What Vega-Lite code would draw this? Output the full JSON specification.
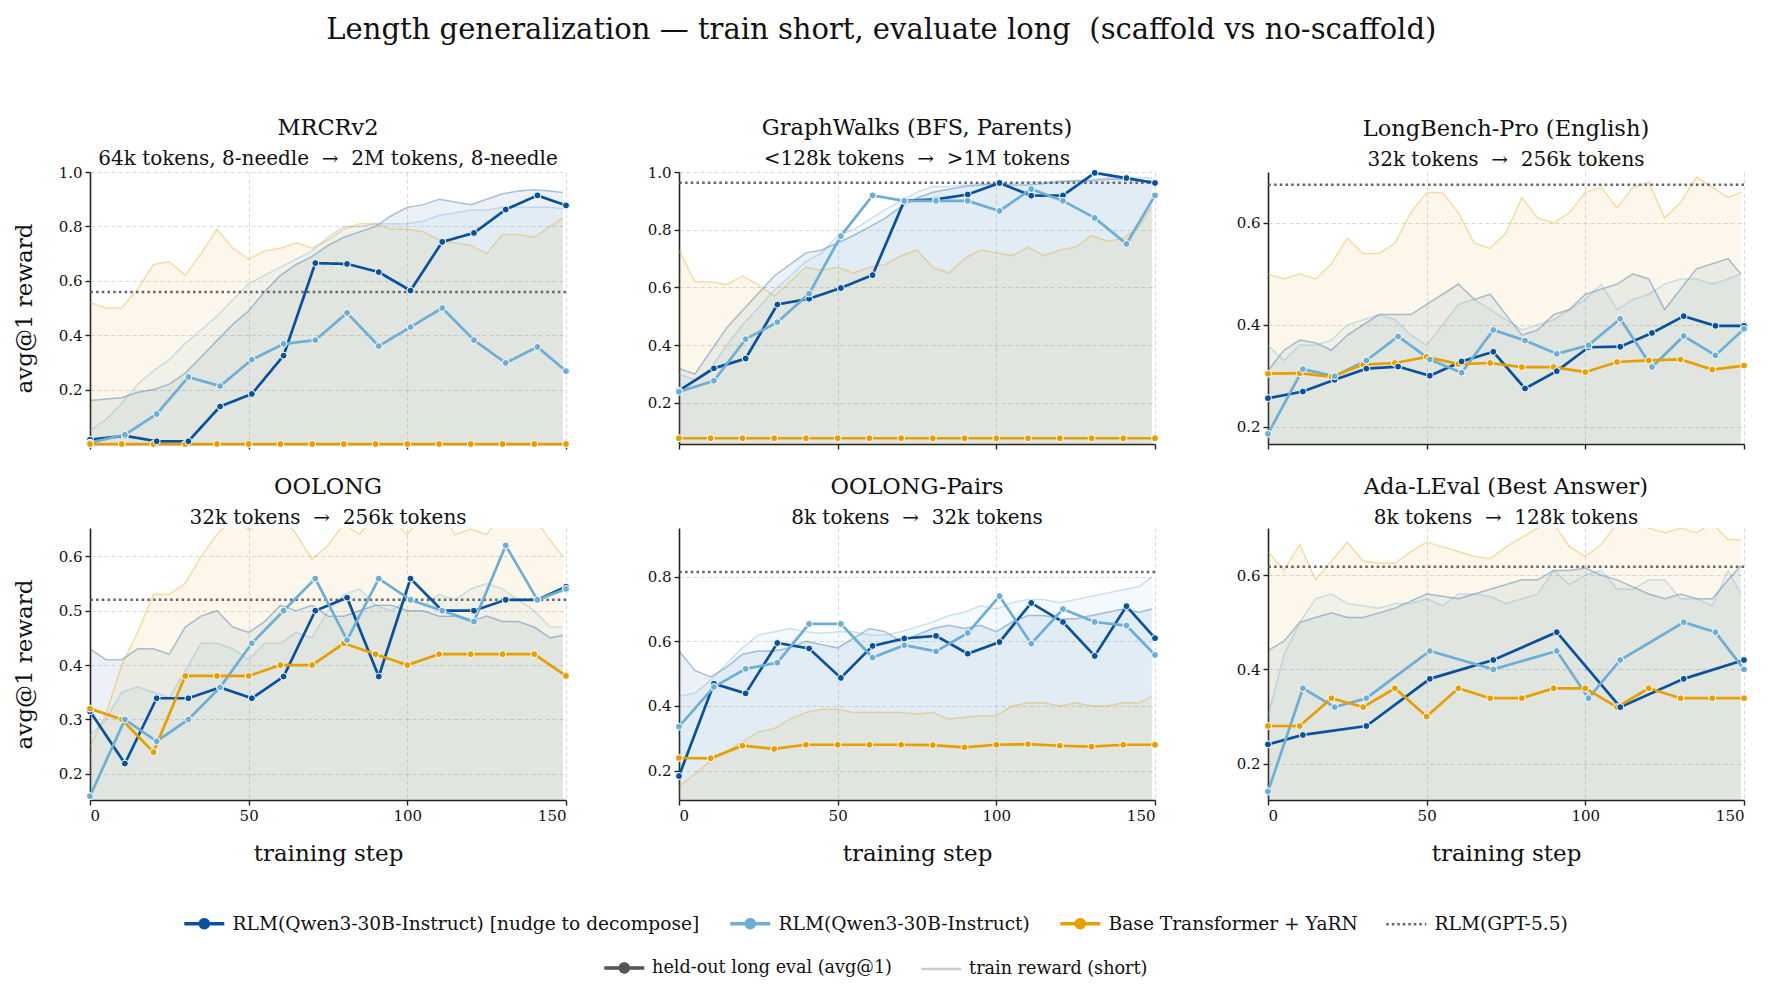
{
"$schema":"https://vega.github.io/schema/vega-lite/v6.json",
"padding":{"left":13,"top":16,"right":16,"bottom":12},
"title":{"text":"Length generalization — train short, evaluate long \u00a0(scaffold vs no-scaffold)","fontSize":29,"anchor":"middle","offset":72,"frame":"bounds","font":"DejaVu Serif","fontWeight":"normal","color":"#111"},
"datasets":{
"train":[
{"p":"m","x":0,"d":0.16,"l":0.05,"o":0.52},{"p":"m","x":5,"d":0.165,"l":0.09,"o":0.50},{"p":"m","x":10,"d":0.17,"l":0.15,"o":0.50},{"p":"m","x":15,"d":0.19,"l":0.22,"o":0.57},{"p":"m","x":20,"d":0.20,"l":0.27,"o":0.66},{"p":"m","x":25,"d":0.22,"l":0.31,"o":0.67},{"p":"m","x":30,"d":0.26,"l":0.37,"o":0.62},{"p":"m","x":35,"d":0.32,"l":0.42,"o":0.70},{"p":"m","x":40,"d":0.38,"l":0.47,"o":0.79},{"p":"m","x":45,"d":0.44,"l":0.53,"o":0.72},{"p":"m","x":50,"d":0.49,"l":0.59,"o":0.68},{"p":"m","x":55,"d":0.56,"l":0.62,"o":0.71},{"p":"m","x":60,"d":0.62,"l":0.65,"o":0.72},{"p":"m","x":65,"d":0.66,"l":0.68,"o":0.74},{"p":"m","x":70,"d":0.69,"l":0.71,"o":0.72},{"p":"m","x":75,"d":0.73,"l":0.76,"o":0.75},{"p":"m","x":80,"d":0.76,"l":0.80,"o":0.79},{"p":"m","x":85,"d":0.78,"l":0.80,"o":0.81},{"p":"m","x":90,"d":0.80,"l":0.81,"o":0.81},{"p":"m","x":95,"d":0.84,"l":0.81,"o":0.79},{"p":"m","x":100,"d":0.87,"l":0.81,"o":0.79},{"p":"m","x":105,"d":0.88,"l":0.82,"o":0.78},{"p":"m","x":110,"d":0.90,"l":0.84,"o":0.75},{"p":"m","x":115,"d":0.89,"l":0.85,"o":0.74},{"p":"m","x":120,"d":0.88,"l":0.86,"o":0.73},{"p":"m","x":125,"d":0.90,"l":0.86,"o":0.70},{"p":"m","x":130,"d":0.92,"l":0.87,"o":0.77},{"p":"m","x":135,"d":0.93,"l":0.87,"o":0.77},{"p":"m","x":140,"d":0.935,"l":0.87,"o":0.76},{"p":"m","x":145,"d":0.93,"l":0.87,"o":0.80},{"p":"m","x":149,"d":0.925,"l":0.865,"o":0.83},
{"p":"gw","x":0,"d":0.32,"l":0.30,"o":0.73},{"p":"gw","x":5,"d":0.30,"l":0.28,"o":0.62},{"p":"gw","x":10,"d":0.38,"l":0.32,"o":0.62},{"p":"gw","x":15,"d":0.46,"l":0.40,"o":0.61},{"p":"gw","x":20,"d":0.52,"l":0.47,"o":0.64},{"p":"gw","x":25,"d":0.58,"l":0.53,"o":0.61},{"p":"gw","x":30,"d":0.64,"l":0.59,"o":0.57},{"p":"gw","x":35,"d":0.68,"l":0.64,"o":0.62},{"p":"gw","x":40,"d":0.72,"l":0.69,"o":0.67},{"p":"gw","x":45,"d":0.73,"l":0.72,"o":0.66},{"p":"gw","x":50,"d":0.755,"l":0.78,"o":0.67},{"p":"gw","x":55,"d":0.78,"l":0.80,"o":0.65},{"p":"gw","x":60,"d":0.81,"l":0.835,"o":0.67},{"p":"gw","x":65,"d":0.84,"l":0.87,"o":0.68},{"p":"gw","x":70,"d":0.88,"l":0.90,"o":0.71},{"p":"gw","x":75,"d":0.91,"l":0.93,"o":0.73},{"p":"gw","x":80,"d":0.93,"l":0.95,"o":0.67},{"p":"gw","x":85,"d":0.94,"l":0.95,"o":0.65},{"p":"gw","x":90,"d":0.95,"l":0.955,"o":0.70},{"p":"gw","x":95,"d":0.955,"l":0.96,"o":0.73},{"p":"gw","x":100,"d":0.96,"l":0.96,"o":0.72},{"p":"gw","x":105,"d":0.955,"l":0.96,"o":0.71},{"p":"gw","x":110,"d":0.955,"l":0.965,"o":0.74},{"p":"gw","x":115,"d":0.96,"l":0.965,"o":0.71},{"p":"gw","x":120,"d":0.965,"l":0.97,"o":0.73},{"p":"gw","x":125,"d":0.97,"l":0.97,"o":0.74},{"p":"gw","x":130,"d":0.97,"l":0.975,"o":0.78},{"p":"gw","x":135,"d":0.975,"l":0.98,"o":0.76},{"p":"gw","x":140,"d":0.975,"l":0.98,"o":0.77},{"p":"gw","x":145,"d":0.97,"l":0.98,"o":0.81},{"p":"gw","x":149,"d":0.97,"l":0.98,"o":0.88},
{"p":"lb","x":0,"d":0.31,"l":0.36,"o":0.50},{"p":"lb","x":5,"d":0.35,"l":0.33,"o":0.49},{"p":"lb","x":10,"d":0.37,"l":0.36,"o":0.50},{"p":"lb","x":15,"d":0.365,"l":0.36,"o":0.49},{"p":"lb","x":20,"d":0.35,"l":0.37,"o":0.52},{"p":"lb","x":25,"d":0.38,"l":0.40,"o":0.57},{"p":"lb","x":30,"d":0.40,"l":0.41,"o":0.54},{"p":"lb","x":35,"d":0.42,"l":0.42,"o":0.54},{"p":"lb","x":40,"d":0.42,"l":0.41,"o":0.56},{"p":"lb","x":45,"d":0.42,"l":0.38,"o":0.62},{"p":"lb","x":50,"d":0.44,"l":0.36,"o":0.66},{"p":"lb","x":55,"d":0.46,"l":0.40,"o":0.66},{"p":"lb","x":60,"d":0.48,"l":0.44,"o":0.62},{"p":"lb","x":65,"d":0.45,"l":0.45,"o":0.56},{"p":"lb","x":70,"d":0.46,"l":0.43,"o":0.55},{"p":"lb","x":75,"d":0.42,"l":0.41,"o":0.58},{"p":"lb","x":80,"d":0.38,"l":0.39,"o":0.65},{"p":"lb","x":85,"d":0.39,"l":0.40,"o":0.61},{"p":"lb","x":90,"d":0.42,"l":0.41,"o":0.60},{"p":"lb","x":95,"d":0.43,"l":0.43,"o":0.62},{"p":"lb","x":100,"d":0.46,"l":0.45,"o":0.66},{"p":"lb","x":105,"d":0.47,"l":0.48,"o":0.67},{"p":"lb","x":110,"d":0.48,"l":0.43,"o":0.63},{"p":"lb","x":115,"d":0.50,"l":0.45,"o":0.67},{"p":"lb","x":120,"d":0.49,"l":0.46,"o":0.68},{"p":"lb","x":125,"d":0.43,"l":0.48,"o":0.61},{"p":"lb","x":130,"d":0.47,"l":0.49,"o":0.64},{"p":"lb","x":135,"d":0.51,"l":0.49,"o":0.69},{"p":"lb","x":140,"d":0.52,"l":0.48,"o":0.67},{"p":"lb","x":145,"d":0.53,"l":0.49,"o":0.65},{"p":"lb","x":149,"d":0.50,"l":0.50,"o":0.66},
{"p":"oo","x":0,"d":0.43,"l":0.27,"o":0.25},{"p":"oo","x":5,"d":0.41,"l":0.30,"o":0.31},{"p":"oo","x":10,"d":0.41,"l":0.35,"o":0.40},{"p":"oo","x":15,"d":0.43,"l":0.36,"o":0.46},{"p":"oo","x":20,"d":0.43,"l":0.35,"o":0.53},{"p":"oo","x":25,"d":0.42,"l":0.34,"o":0.53},{"p":"oo","x":30,"d":0.47,"l":0.39,"o":0.55},{"p":"oo","x":35,"d":0.49,"l":0.44,"o":0.60},{"p":"oo","x":40,"d":0.50,"l":0.44,"o":0.64},{"p":"oo","x":45,"d":0.47,"l":0.43,"o":0.67},{"p":"oo","x":50,"d":0.46,"l":0.41,"o":0.65},{"p":"oo","x":55,"d":0.48,"l":0.44,"o":0.66},{"p":"oo","x":60,"d":0.51,"l":0.44,"o":0.68},{"p":"oo","x":65,"d":0.50,"l":0.46,"o":0.64},{"p":"oo","x":70,"d":0.51,"l":0.45,"o":0.595},{"p":"oo","x":75,"d":0.49,"l":0.50,"o":0.62},{"p":"oo","x":80,"d":0.49,"l":0.53,"o":0.66},{"p":"oo","x":85,"d":0.50,"l":0.54,"o":0.64},{"p":"oo","x":90,"d":0.51,"l":0.51,"o":0.68},{"p":"oo","x":95,"d":0.51,"l":0.50,"o":0.67},{"p":"oo","x":100,"d":0.50,"l":0.52,"o":0.64},{"p":"oo","x":105,"d":0.50,"l":0.51,"o":0.68},{"p":"oo","x":110,"d":0.49,"l":0.53,"o":0.69},{"p":"oo","x":115,"d":0.49,"l":0.52,"o":0.64},{"p":"oo","x":120,"d":0.48,"l":0.54,"o":0.65},{"p":"oo","x":125,"d":0.49,"l":0.55,"o":0.64},{"p":"oo","x":130,"d":0.48,"l":0.54,"o":0.68},{"p":"oo","x":135,"d":0.48,"l":0.52,"o":0.69},{"p":"oo","x":140,"d":0.47,"l":0.50,"o":0.67},{"p":"oo","x":145,"d":0.45,"l":0.47,"o":0.63},{"p":"oo","x":149,"d":0.455,"l":0.47,"o":0.60},
{"p":"op","x":0,"d":0.57,"l":0.43,"o":0.15},{"p":"op","x":5,"d":0.51,"l":0.44,"o":0.19},{"p":"op","x":10,"d":0.49,"l":0.48,"o":0.23},{"p":"op","x":15,"d":0.52,"l":0.53,"o":0.26},{"p":"op","x":20,"d":0.56,"l":0.58,"o":0.29},{"p":"op","x":25,"d":0.57,"l":0.62,"o":0.32},{"p":"op","x":30,"d":0.57,"l":0.63,"o":0.33},{"p":"op","x":35,"d":0.58,"l":0.64,"o":0.36},{"p":"op","x":40,"d":0.60,"l":0.63,"o":0.38},{"p":"op","x":45,"d":0.59,"l":0.625,"o":0.39},{"p":"op","x":50,"d":0.58,"l":0.63,"o":0.39},{"p":"op","x":55,"d":0.61,"l":0.63,"o":0.38},{"p":"op","x":60,"d":0.64,"l":0.62,"o":0.38},{"p":"op","x":65,"d":0.63,"l":0.62,"o":0.38},{"p":"op","x":70,"d":0.60,"l":0.63,"o":0.38},{"p":"op","x":75,"d":0.62,"l":0.645,"o":0.375},{"p":"op","x":80,"d":0.64,"l":0.66,"o":0.38},{"p":"op","x":85,"d":0.65,"l":0.68,"o":0.36},{"p":"op","x":90,"d":0.64,"l":0.69,"o":0.365},{"p":"op","x":95,"d":0.65,"l":0.71,"o":0.37},{"p":"op","x":100,"d":0.63,"l":0.70,"o":0.37},{"p":"op","x":105,"d":0.66,"l":0.72,"o":0.40},{"p":"op","x":110,"d":0.68,"l":0.73,"o":0.41},{"p":"op","x":115,"d":0.68,"l":0.73,"o":0.41},{"p":"op","x":120,"d":0.67,"l":0.72,"o":0.40},{"p":"op","x":125,"d":0.67,"l":0.73,"o":0.41},{"p":"op","x":130,"d":0.68,"l":0.74,"o":0.40},{"p":"op","x":135,"d":0.69,"l":0.75,"o":0.40},{"p":"op","x":140,"d":0.70,"l":0.76,"o":0.41},{"p":"op","x":145,"d":0.69,"l":0.77,"o":0.41},{"p":"op","x":149,"d":0.70,"l":0.80,"o":0.43},
{"p":"ad","x":0,"d":0.44,"l":0.30,"o":0.65},{"p":"ad","x":5,"d":0.46,"l":0.43,"o":0.61},{"p":"ad","x":10,"d":0.50,"l":0.50,"o":0.665},{"p":"ad","x":15,"d":0.51,"l":0.55,"o":0.59},{"p":"ad","x":20,"d":0.52,"l":0.56,"o":0.63},{"p":"ad","x":25,"d":0.51,"l":0.54,"o":0.67},{"p":"ad","x":30,"d":0.51,"l":0.535,"o":0.63},{"p":"ad","x":35,"d":0.52,"l":0.53,"o":0.625},{"p":"ad","x":40,"d":0.53,"l":0.54,"o":0.625},{"p":"ad","x":45,"d":0.545,"l":0.54,"o":0.65},{"p":"ad","x":50,"d":0.56,"l":0.55,"o":0.67},{"p":"ad","x":55,"d":0.555,"l":0.535,"o":0.66},{"p":"ad","x":60,"d":0.55,"l":0.56,"o":0.65},{"p":"ad","x":65,"d":0.56,"l":0.56,"o":0.64},{"p":"ad","x":70,"d":0.57,"l":0.555,"o":0.635},{"p":"ad","x":75,"d":0.58,"l":0.54,"o":0.66},{"p":"ad","x":80,"d":0.59,"l":0.55,"o":0.68},{"p":"ad","x":85,"d":0.59,"l":0.56,"o":0.70},{"p":"ad","x":90,"d":0.61,"l":0.61,"o":0.71},{"p":"ad","x":95,"d":0.61,"l":0.58,"o":0.66},{"p":"ad","x":100,"d":0.615,"l":0.60,"o":0.64},{"p":"ad","x":105,"d":0.60,"l":0.61,"o":0.665},{"p":"ad","x":110,"d":0.59,"l":0.57,"o":0.71},{"p":"ad","x":115,"d":0.575,"l":0.57,"o":0.71},{"p":"ad","x":120,"d":0.56,"l":0.59,"o":0.70},{"p":"ad","x":125,"d":0.55,"l":0.59,"o":0.69},{"p":"ad","x":130,"d":0.56,"l":0.55,"o":0.70},{"p":"ad","x":135,"d":0.55,"l":0.55,"o":0.69},{"p":"ad","x":140,"d":0.55,"l":0.535,"o":0.71},{"p":"ad","x":145,"d":0.59,"l":0.61,"o":0.675},{"p":"ad","x":149,"d":0.62,"l":0.56,"o":0.675}
],
"eval":[
{"p":"m","x":0,"d":0.016,"l":0.005,"o":0},{"p":"m","x":10,"o":0},{"p":"m","x":11,"d":0.03,"l":0.034},{"p":"m","x":20,"o":0},{"p":"m","x":21,"d":0.01,"l":0.11},{"p":"m","x":30,"o":0},{"p":"m","x":31,"d":0.01,"l":0.246},{"p":"m","x":40,"o":0},{"p":"m","x":41,"d":0.138,"l":0.213},{"p":"m","x":50,"o":0},{"p":"m","x":51,"d":0.184,"l":0.31},{"p":"m","x":60,"o":0},{"p":"m","x":61,"d":0.325,"l":0.368},{"p":"m","x":70,"o":0},{"p":"m","x":71,"d":0.665,"l":0.382},{"p":"m","x":80,"o":0},{"p":"m","x":81,"d":0.662,"l":0.482},{"p":"m","x":90,"o":0},{"p":"m","x":91,"d":0.632,"l":0.36},{"p":"m","x":100,"o":0},{"p":"m","x":101,"d":0.564,"l":0.43},{"p":"m","x":110,"o":0},{"p":"m","x":111,"d":0.743,"l":0.5},{"p":"m","x":120,"o":0},{"p":"m","x":121,"d":0.776,"l":0.382},{"p":"m","x":130,"o":0},{"p":"m","x":131,"d":0.862,"l":0.298},{"p":"m","x":140,"o":0},{"p":"m","x":141,"d":0.914,"l":0.357},{"p":"m","x":150,"d":0.877,"l":0.268,"o":0},
{"p":"gw","x":0,"d":0.243,"l":0.239,"o":0.078},{"p":"gw","x":10,"o":0.078},{"p":"gw","x":11,"d":0.32,"l":0.277},{"p":"gw","x":20,"o":0.078},{"p":"gw","x":21,"d":0.354,"l":0.421},{"p":"gw","x":30,"o":0.078},{"p":"gw","x":31,"d":0.541,"l":0.48},{"p":"gw","x":40,"o":0.078},{"p":"gw","x":41,"d":0.561,"l":0.579},{"p":"gw","x":50,"o":0.078},{"p":"gw","x":51,"d":0.598,"l":0.778},{"p":"gw","x":60,"o":0.078},{"p":"gw","x":61,"d":0.643,"l":0.919},{"p":"gw","x":70,"o":0.078},{"p":"gw","x":71,"d":0.90,"l":0.90},{"p":"gw","x":80,"o":0.078},{"p":"gw","x":81,"d":0.905,"l":0.90},{"p":"gw","x":90,"o":0.078},{"p":"gw","x":91,"d":0.922,"l":0.90},{"p":"gw","x":100,"o":0.078},{"p":"gw","x":101,"d":0.962,"l":0.865},{"p":"gw","x":110,"o":0.078},{"p":"gw","x":111,"d":0.918,"l":0.941},{"p":"gw","x":120,"o":0.078},{"p":"gw","x":121,"d":0.919,"l":0.90},{"p":"gw","x":130,"o":0.078},{"p":"gw","x":131,"d":0.997,"l":0.841},{"p":"gw","x":140,"o":0.078},{"p":"gw","x":141,"d":0.979,"l":0.751},{"p":"gw","x":150,"d":0.962,"l":0.919,"o":0.078},
{"p":"lb","x":0,"d":0.256,"l":0.186,"o":0.304},{"p":"lb","x":10,"o":0.305},{"p":"lb","x":11,"d":0.269,"l":0.313},{"p":"lb","x":20,"o":0.298},{"p":"lb","x":21,"d":0.292,"l":0.299},{"p":"lb","x":30,"o":0.322},{"p":"lb","x":31,"d":0.314,"l":0.33},{"p":"lb","x":40,"o":0.325},{"p":"lb","x":41,"d":0.318,"l":0.377},{"p":"lb","x":50,"o":0.337},{"p":"lb","x":51,"d":0.30,"l":0.332},{"p":"lb","x":60,"o":0.323},{"p":"lb","x":61,"d":0.328,"l":0.306},{"p":"lb","x":70,"o":0.325},{"p":"lb","x":71,"d":0.347,"l":0.39},{"p":"lb","x":80,"o":0.317},{"p":"lb","x":81,"d":0.275,"l":0.369},{"p":"lb","x":90,"o":0.317},{"p":"lb","x":91,"d":0.309,"l":0.343},{"p":"lb","x":100,"o":0.307},{"p":"lb","x":101,"d":0.356,"l":0.36},{"p":"lb","x":110,"o":0.327},{"p":"lb","x":111,"d":0.357,"l":0.412},{"p":"lb","x":120,"o":0.33},{"p":"lb","x":121,"d":0.384,"l":0.317},{"p":"lb","x":130,"o":0.332},{"p":"lb","x":131,"d":0.417,"l":0.378},{"p":"lb","x":140,"o":0.312},{"p":"lb","x":141,"d":0.398,"l":0.34},{"p":"lb","x":150,"d":0.398,"l":0.392,"o":0.32},
{"p":"oo","x":0,"d":0.315,"l":0.159,"o":0.32},{"p":"oo","x":10,"o":0.30},{"p":"oo","x":11,"d":0.219,"l":0.30},{"p":"oo","x":20,"o":0.24},{"p":"oo","x":21,"d":0.339,"l":0.26},{"p":"oo","x":30,"o":0.38},{"p":"oo","x":31,"d":0.339,"l":0.30},{"p":"oo","x":40,"o":0.38},{"p":"oo","x":41,"d":0.359,"l":0.359},{"p":"oo","x":50,"o":0.38},{"p":"oo","x":51,"d":0.339,"l":0.44},{"p":"oo","x":60,"o":0.40},{"p":"oo","x":61,"d":0.379,"l":0.50},{"p":"oo","x":70,"o":0.40},{"p":"oo","x":71,"d":0.50,"l":0.559},{"p":"oo","x":80,"o":0.44},{"p":"oo","x":81,"d":0.524,"l":0.446},{"p":"oo","x":90,"o":0.42},{"p":"oo","x":91,"d":0.379,"l":0.559},{"p":"oo","x":100,"o":0.40},{"p":"oo","x":101,"d":0.559,"l":0.52},{"p":"oo","x":110,"o":0.42},{"p":"oo","x":111,"d":0.50,"l":0.50},{"p":"oo","x":120,"o":0.42},{"p":"oo","x":121,"d":0.50,"l":0.48},{"p":"oo","x":130,"o":0.42},{"p":"oo","x":131,"d":0.52,"l":0.62},{"p":"oo","x":140,"o":0.42},{"p":"oo","x":141,"d":0.52,"l":0.52},{"p":"oo","x":150,"d":0.544,"l":0.54,"o":0.38},
{"p":"op","x":0,"d":0.183,"l":0.336,"o":0.239},{"p":"op","x":10,"o":0.238},{"p":"op","x":11,"d":0.469,"l":0.459},{"p":"op","x":20,"o":0.277},{"p":"op","x":21,"d":0.439,"l":0.515},{"p":"op","x":30,"o":0.267},{"p":"op","x":31,"d":0.595,"l":0.534},{"p":"op","x":40,"o":0.28},{"p":"op","x":41,"d":0.578,"l":0.654},{"p":"op","x":50,"o":0.28},{"p":"op","x":51,"d":0.487,"l":0.654},{"p":"op","x":60,"o":0.28},{"p":"op","x":61,"d":0.586,"l":0.55},{"p":"op","x":70,"o":0.28},{"p":"op","x":71,"d":0.609,"l":0.588},{"p":"op","x":80,"o":0.279},{"p":"op","x":81,"d":0.617,"l":0.569},{"p":"op","x":90,"o":0.272},{"p":"op","x":91,"d":0.562,"l":0.626},{"p":"op","x":100,"o":0.28},{"p":"op","x":101,"d":0.598,"l":0.74},{"p":"op","x":110,"o":0.282},{"p":"op","x":111,"d":0.719,"l":0.593},{"p":"op","x":120,"o":0.277},{"p":"op","x":121,"d":0.66,"l":0.70},{"p":"op","x":130,"o":0.274},{"p":"op","x":131,"d":0.555,"l":0.66},{"p":"op","x":140,"o":0.28},{"p":"op","x":141,"d":0.709,"l":0.649},{"p":"op","x":150,"d":0.61,"l":0.558,"o":0.28},
{"p":"ad","x":0,"d":0.241,"l":0.141,"o":0.28},{"p":"ad","x":10,"o":0.28},{"p":"ad","x":11,"d":0.261,"l":0.36},{"p":"ad","x":20,"o":0.339},{"p":"ad","x":21,"l":0.32},{"p":"ad","x":30,"o":0.32},{"p":"ad","x":31,"d":0.28,"l":0.339},{"p":"ad","x":40,"o":0.36},{"p":"ad","x":50,"o":0.30},{"p":"ad","x":51,"d":0.38,"l":0.439},{"p":"ad","x":60,"o":0.36},{"p":"ad","x":70,"o":0.339},{"p":"ad","x":71,"d":0.42,"l":0.40},{"p":"ad","x":80,"o":0.339},{"p":"ad","x":90,"o":0.36},{"p":"ad","x":91,"d":0.479,"l":0.439},{"p":"ad","x":100,"o":0.36},{"p":"ad","x":101,"l":0.339},{"p":"ad","x":110,"o":0.32},{"p":"ad","x":111,"d":0.32,"l":0.42},{"p":"ad","x":120,"o":0.36},{"p":"ad","x":130,"o":0.339},{"p":"ad","x":131,"d":0.38,"l":0.50},{"p":"ad","x":140,"o":0.339},{"p":"ad","x":141,"l":0.479},{"p":"ad","x":150,"d":0.42,"l":0.40,"o":0.339}
],
"gpt":[
{"p":"m","s":"g","y":0.559},{"p":"gw","s":"g","y":0.963},{"p":"lb","s":"g","y":0.675},{"p":"oo","s":"g","y":0.52},{"p":"op","s":"g","y":0.815},{"p":"ad","s":"g","y":0.618}
]
},
"columns":3,
"spacing":{"row":84,"column":113},
"bounds":"flush",
"concat":[
{"width":476,"height":272,"title":{"text":"MRCRv2","subtitle":"64k tokens, 8-needle \u00a0→ \u00a02M tokens, 8-needle","offset":-4},
"layer":[
{"data":{"name":"train"},"transform":[{"filter":"datum.p==='m'"},{"fold":["d","l","o"],"as":["s","y"]}],"mark":{"type":"area","clip":true,"fillOpacity":0.08},
"encoding":{"x":{"field":"x","type":"quantitative","scale":{"domain":[0,150],"nice":false},"axis":{"values":[0,50,100,150],"labels":false,"title":null}},
"y":{"field":"y","type":"quantitative","stack":null,"scale":{"domain":[0,1],"nice":false,"zero":false},"axis":{"values":[0.2,0.4,0.6,0.8,1.0],"format":".1f","title":"avg@1 reward"}},
"color":{"field":"s","type":"nominal","scale":{"domain":["d","l","o","g"],"range":["#08519c","#6baed6","#e69f00","#666666"]}}}},
{"data":{"name":"train"},"transform":[{"filter":"datum.p==='m'"},{"fold":["d","l","o"],"as":["s","y"]}],"mark":{"type":"line","clip":true,"opacity":0.33,"strokeWidth":1.5},
"encoding":{"x":{"field":"x","type":"quantitative"},"y":{"field":"y","type":"quantitative"},"color":{"field":"s","type":"nominal"}}},
{"data":{"name":"gpt"},"transform":[{"filter":"datum.p==='m'"}],"mark":{"type":"rule","strokeDash":[2.5,3.2],"strokeWidth":2.5},
"encoding":{"y":{"field":"y","type":"quantitative"},"color":{"field":"s","type":"nominal"}}},
{"data":{"name":"eval"},"transform":[{"filter":"datum.p==='m'"},{"fold":["d","l","o"],"as":["s","y"]},{"filter":"isValid(datum.y)"}],"mark":{"type":"line","strokeWidth":2.7},
"encoding":{"x":{"field":"x","type":"quantitative"},"y":{"field":"y","type":"quantitative"},
"color":{"field":"s","type":"nominal","legend":{"orient":"bottom","direction":"horizontal","columns":4,"title":null,"offset":49,"columnPadding":23,"labelOffset":19,"labelLimit":600,"labelFontSize":18.6,"labelFont":"DejaVu Serif","labelColor":"#111","symbolSize":1600,"symbolStrokeWidth":3.5,"symbolType":"M-1,0L1,0M0.2,0A0.2,0.2,0,1,1,-0.2,0A0.2,0.2,0,1,1,0.2,0Z",
"labelExpr":"datum.value==='d'?'RLM(Qwen3-30B-Instruct) [nudge to decompose]':datum.value==='l'?'RLM(Qwen3-30B-Instruct)':datum.value==='o'?'Base Transformer + YaRN':'RLM(GPT-5.5)'",
"encode":{"symbols":{"update":{"shape":{"signal":"datum.value==='g'?'stroke':'M-1,0L1,0M0.2,0A0.2,0.2,0,1,1,-0.2,0A0.2,0.2,0,1,1,0.2,0Z'"},"fill":{"scale":"color","field":"value"},"stroke":{"scale":"color","field":"value"},"strokeDash":{"signal":"datum.value==='g'?[2.5,3]:[1,0]"},"strokeWidth":{"signal":"datum.value==='g'?2.5:3.5"},"opacity":{"value":1}}}}}},
"strokeDash":{"datum":"held-out long eval (avg@1)","type":"nominal","scale":{"domain":["held-out long eval (avg@1)","train reward (short)"],"range":[[1,0],[1,0]]},
"legend":{"orient":"bottom","direction":"horizontal","title":null,"offset":49,"columnPadding":23,"labelOffset":19,"labelLimit":600,"labelFontSize":17.6,"labelFont":"DejaVu Serif","labelColor":"#111","symbolSize":1600,"symbolStrokeWidth":3.5,
"encode":{"symbols":{"update":{"shape":{"signal":"datum.value==='train reward (short)'?'stroke':'M-1,0L1,0M0.2,0A0.2,0.2,0,1,1,-0.2,0A0.2,0.2,0,1,1,0.2,0Z'"},"fill":{"value":"#555555"},"stroke":{"signal":"datum.value==='train reward (short)'?'#cccccc':'#555555'"},"strokeWidth":{"signal":"datum.value==='train reward (short)'?2.5:3.5"}}}}}}}},
{"data":{"name":"eval"},"transform":[{"filter":"datum.p==='m'"},{"fold":["d","l","o"],"as":["s","y"]},{"filter":"isValid(datum.y)"}],"mark":{"type":"point","filled":true,"size":48,"stroke":"white","strokeWidth":1,"opacity":1},
"encoding":{"x":{"field":"x","type":"quantitative"},"y":{"field":"y","type":"quantitative"},"color":{"field":"s","type":"nominal"}}}
]},
{"width":476,"height":272,"title":{"text":"GraphWalks (BFS, Parents)","subtitle":"<128k tokens \u00a0→ \u00a0>1M tokens","offset":-4},
"layer":[
{"data":{"name":"train"},"transform":[{"filter":"datum.p==='gw'"},{"fold":["d","l","o"],"as":["s","y"]}],"mark":{"type":"area","clip":true,"fillOpacity":0.08},
"encoding":{"x":{"field":"x","type":"quantitative","scale":{"domain":[0,150],"nice":false},"axis":{"values":[0,50,100,150],"labels":false,"title":null}},
"y":{"field":"y","type":"quantitative","stack":null,"scale":{"domain":[0.058,1],"nice":false,"zero":false},"axis":{"values":[0.2,0.4,0.6,0.8,1.0],"format":".1f","title":null}},
"color":{"field":"s","type":"nominal"}}},
{"data":{"name":"train"},"transform":[{"filter":"datum.p==='gw'"},{"fold":["d","l","o"],"as":["s","y"]}],"mark":{"type":"line","clip":true,"opacity":0.33,"strokeWidth":1.5},
"encoding":{"x":{"field":"x","type":"quantitative"},"y":{"field":"y","type":"quantitative"},"color":{"field":"s","type":"nominal"}}},
{"data":{"name":"gpt"},"transform":[{"filter":"datum.p==='gw'"}],"mark":{"type":"rule","strokeDash":[2.5,3.2],"strokeWidth":2.5},
"encoding":{"y":{"field":"y","type":"quantitative"},"color":{"field":"s","type":"nominal"}}},
{"data":{"name":"eval"},"transform":[{"filter":"datum.p==='gw'"},{"fold":["d","l","o"],"as":["s","y"]},{"filter":"isValid(datum.y)"}],"mark":{"type":"line","strokeWidth":2.7},
"encoding":{"x":{"field":"x","type":"quantitative"},"y":{"field":"y","type":"quantitative"},"color":{"field":"s","type":"nominal"}}},
{"data":{"name":"eval"},"transform":[{"filter":"datum.p==='gw'"},{"fold":["d","l","o"],"as":["s","y"]},{"filter":"isValid(datum.y)"}],"mark":{"type":"point","filled":true,"size":48,"stroke":"white","strokeWidth":1,"opacity":1},
"encoding":{"x":{"field":"x","type":"quantitative"},"y":{"field":"y","type":"quantitative"},"color":{"field":"s","type":"nominal"}}}
]},
{"width":476,"height":272,"title":{"text":"LongBench-Pro (English)","subtitle":"32k tokens \u00a0→ \u00a0256k tokens","offset":2},
"layer":[
{"data":{"name":"train"},"transform":[{"filter":"datum.p==='lb'"},{"fold":["d","l","o"],"as":["s","y"]}],"mark":{"type":"area","clip":true,"fillOpacity":0.08},
"encoding":{"x":{"field":"x","type":"quantitative","scale":{"domain":[0,150],"nice":false},"axis":{"values":[0,50,100,150],"labels":false,"title":null}},
"y":{"field":"y","type":"quantitative","stack":null,"scale":{"domain":[0.166,0.70],"nice":false,"zero":false},"axis":{"values":[0.2,0.4,0.6],"format":".1f","title":null}},
"color":{"field":"s","type":"nominal"}}},
{"data":{"name":"train"},"transform":[{"filter":"datum.p==='lb'"},{"fold":["d","l","o"],"as":["s","y"]}],"mark":{"type":"line","clip":true,"opacity":0.33,"strokeWidth":1.5},
"encoding":{"x":{"field":"x","type":"quantitative"},"y":{"field":"y","type":"quantitative"},"color":{"field":"s","type":"nominal"}}},
{"data":{"name":"gpt"},"transform":[{"filter":"datum.p==='lb'"}],"mark":{"type":"rule","strokeDash":[2.5,3.2],"strokeWidth":2.5},
"encoding":{"y":{"field":"y","type":"quantitative"},"color":{"field":"s","type":"nominal"}}},
{"data":{"name":"eval"},"transform":[{"filter":"datum.p==='lb'"},{"fold":["d","l","o"],"as":["s","y"]},{"filter":"isValid(datum.y)"}],"mark":{"type":"line","strokeWidth":2.7},
"encoding":{"x":{"field":"x","type":"quantitative"},"y":{"field":"y","type":"quantitative"},"color":{"field":"s","type":"nominal"}}},
{"data":{"name":"eval"},"transform":[{"filter":"datum.p==='lb'"},{"fold":["d","l","o"],"as":["s","y"]},{"filter":"isValid(datum.y)"}],"mark":{"type":"point","filled":true,"size":48,"stroke":"white","strokeWidth":1,"opacity":1},
"encoding":{"x":{"field":"x","type":"quantitative"},"y":{"field":"y","type":"quantitative"},"color":{"field":"s","type":"nominal"}}}
]},
{"width":476,"height":272,"title":{"text":"OOLONG","subtitle":"32k tokens \u00a0→ \u00a0256k tokens","offset":0},
"layer":[
{"data":{"name":"train"},"transform":[{"filter":"datum.p==='oo'"},{"fold":["d","l","o"],"as":["s","y"]}],"mark":{"type":"area","clip":true,"fillOpacity":0.08},
"encoding":{"x":{"field":"x","type":"quantitative","scale":{"domain":[0,150],"nice":false},"axis":{"values":[0,50,100,150],"title":"training step"}},
"y":{"field":"y","type":"quantitative","stack":null,"scale":{"domain":[0.152,0.652],"nice":false,"zero":false},"axis":{"values":[0.2,0.3,0.4,0.5,0.6],"format":".1f","title":"avg@1 reward"}},
"color":{"field":"s","type":"nominal"}}},
{"data":{"name":"train"},"transform":[{"filter":"datum.p==='oo'"},{"fold":["d","l","o"],"as":["s","y"]}],"mark":{"type":"line","clip":true,"opacity":0.33,"strokeWidth":1.5},
"encoding":{"x":{"field":"x","type":"quantitative"},"y":{"field":"y","type":"quantitative"},"color":{"field":"s","type":"nominal"}}},
{"data":{"name":"gpt"},"transform":[{"filter":"datum.p==='oo'"}],"mark":{"type":"rule","strokeDash":[2.5,3.2],"strokeWidth":2.5},
"encoding":{"y":{"field":"y","type":"quantitative"},"color":{"field":"s","type":"nominal"}}},
{"data":{"name":"eval"},"transform":[{"filter":"datum.p==='oo'"},{"fold":["d","l","o"],"as":["s","y"]},{"filter":"isValid(datum.y)"}],"mark":{"type":"line","strokeWidth":2.7},
"encoding":{"x":{"field":"x","type":"quantitative"},"y":{"field":"y","type":"quantitative"},"color":{"field":"s","type":"nominal"}}},
{"data":{"name":"eval"},"transform":[{"filter":"datum.p==='oo'"},{"fold":["d","l","o"],"as":["s","y"]},{"filter":"isValid(datum.y)"}],"mark":{"type":"point","filled":true,"size":48,"stroke":"white","strokeWidth":1,"opacity":1},
"encoding":{"x":{"field":"x","type":"quantitative"},"y":{"field":"y","type":"quantitative"},"color":{"field":"s","type":"nominal"}}}
]},
{"width":476,"height":272,"title":{"text":"OOLONG-Pairs","subtitle":"8k tokens \u00a0→ \u00a032k tokens","offset":0},
"layer":[
{"data":{"name":"train"},"transform":[{"filter":"datum.p==='op'"},{"fold":["d","l","o"],"as":["s","y"]}],"mark":{"type":"area","clip":true,"fillOpacity":0.08},
"encoding":{"x":{"field":"x","type":"quantitative","scale":{"domain":[0,150],"nice":false},"axis":{"values":[0,50,100,150],"title":"training step"}},
"y":{"field":"y","type":"quantitative","stack":null,"scale":{"domain":[0.109,0.951],"nice":false,"zero":false},"axis":{"values":[0.2,0.4,0.6,0.8],"format":".1f","title":null}},
"color":{"field":"s","type":"nominal"}}},
{"data":{"name":"train"},"transform":[{"filter":"datum.p==='op'"},{"fold":["d","l","o"],"as":["s","y"]}],"mark":{"type":"line","clip":true,"opacity":0.33,"strokeWidth":1.5},
"encoding":{"x":{"field":"x","type":"quantitative"},"y":{"field":"y","type":"quantitative"},"color":{"field":"s","type":"nominal"}}},
{"data":{"name":"gpt"},"transform":[{"filter":"datum.p==='op'"}],"mark":{"type":"rule","strokeDash":[2.5,3.2],"strokeWidth":2.5},
"encoding":{"y":{"field":"y","type":"quantitative"},"color":{"field":"s","type":"nominal"}}},
{"data":{"name":"eval"},"transform":[{"filter":"datum.p==='op'"},{"fold":["d","l","o"],"as":["s","y"]},{"filter":"isValid(datum.y)"}],"mark":{"type":"line","strokeWidth":2.7},
"encoding":{"x":{"field":"x","type":"quantitative"},"y":{"field":"y","type":"quantitative"},"color":{"field":"s","type":"nominal"}}},
{"data":{"name":"eval"},"transform":[{"filter":"datum.p==='op'"},{"fold":["d","l","o"],"as":["s","y"]},{"filter":"isValid(datum.y)"}],"mark":{"type":"point","filled":true,"size":48,"stroke":"white","strokeWidth":1,"opacity":1},
"encoding":{"x":{"field":"x","type":"quantitative"},"y":{"field":"y","type":"quantitative"},"color":{"field":"s","type":"nominal"}}}
]},
{"width":476,"height":272,"title":{"text":"Ada-LEval (Best Answer)","subtitle":"8k tokens \u00a0→ \u00a0128k tokens","offset":0},
"layer":[
{"data":{"name":"train"},"transform":[{"filter":"datum.p==='ad'"},{"fold":["d","l","o"],"as":["s","y"]}],"mark":{"type":"area","clip":true,"fillOpacity":0.08},
"encoding":{"x":{"field":"x","type":"quantitative","scale":{"domain":[0,150],"nice":false},"axis":{"values":[0,50,100,150],"title":"training step"}},
"y":{"field":"y","type":"quantitative","stack":null,"scale":{"domain":[0.123,0.70],"nice":false,"zero":false},"axis":{"values":[0.2,0.4,0.6],"format":".1f","title":null}},
"color":{"field":"s","type":"nominal"}}},
{"data":{"name":"train"},"transform":[{"filter":"datum.p==='ad'"},{"fold":["d","l","o"],"as":["s","y"]}],"mark":{"type":"line","clip":true,"opacity":0.33,"strokeWidth":1.5},
"encoding":{"x":{"field":"x","type":"quantitative"},"y":{"field":"y","type":"quantitative"},"color":{"field":"s","type":"nominal"}}},
{"data":{"name":"gpt"},"transform":[{"filter":"datum.p==='ad'"}],"mark":{"type":"rule","strokeDash":[2.5,3.2],"strokeWidth":2.5},
"encoding":{"y":{"field":"y","type":"quantitative"},"color":{"field":"s","type":"nominal"}}},
{"data":{"name":"eval"},"transform":[{"filter":"datum.p==='ad'"},{"fold":["d","l","o"],"as":["s","y"]},{"filter":"isValid(datum.y)"}],"mark":{"type":"line","strokeWidth":2.7},
"encoding":{"x":{"field":"x","type":"quantitative"},"y":{"field":"y","type":"quantitative"},"color":{"field":"s","type":"nominal"}}},
{"data":{"name":"eval"},"transform":[{"filter":"datum.p==='ad'"},{"fold":["d","l","o"],"as":["s","y"]},{"filter":"isValid(datum.y)"}],"mark":{"type":"point","filled":true,"size":48,"stroke":"white","strokeWidth":1,"opacity":1},
"encoding":{"x":{"field":"x","type":"quantitative"},"y":{"field":"y","type":"quantitative"},"color":{"field":"s","type":"nominal"}}}
]}
],
"resolve":{"scale":{"color":"shared"}},
"config":{
"font":"DejaVu Serif",
"view":{"stroke":null},
"title":{"font":"DejaVu Serif","fontSize":22.5,"fontWeight":"normal","color":"#111","subtitleFont":"DejaVu Serif","subtitleFontSize":20,"subtitleColor":"#111","subtitlePadding":9.5},
"axis":{"labelFont":"DejaVu Serif","labelFontSize":15,"labelColor":"#111","titleFont":"DejaVu Serif","titleFontSize":23,"titleFontWeight":"normal","titleColor":"#111","domainColor":"#222","domainWidth":1.6,"tickColor":"#222","tickWidth":1.4,"tickSize":5,"labelPadding":3,"gridColor":"#cfcfcf","gridDash":[4,3],"gridWidth":0.8},
"axisY":{"titlePadding":22},
"axisX":{"titlePadding":19},
"legend":{"layout":{"bottom":{"anchor":"middle","direction":"vertical","margin":24,"center":true}}}
}
}
